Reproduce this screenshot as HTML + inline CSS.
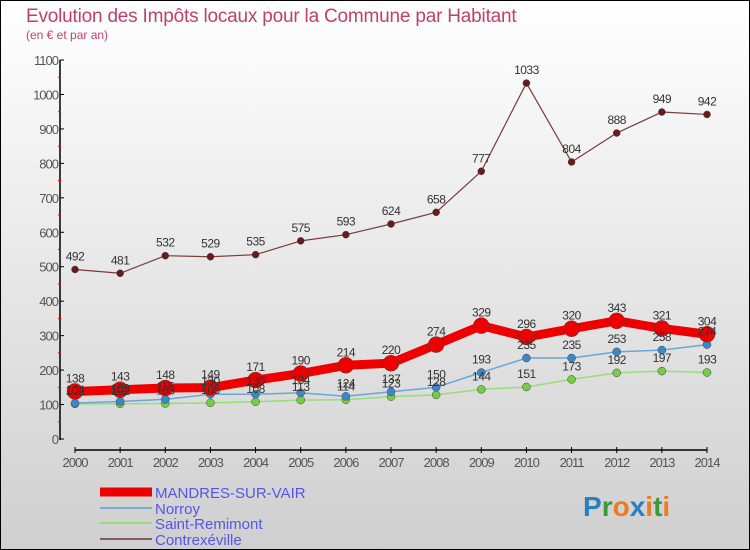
<!DOCTYPE html>
<html><head><meta charset="utf-8"><style>
body{margin:0}
#wrap{width:750px;height:550px;position:relative;overflow:hidden}
svg text{font-family:"Liberation Sans",sans-serif}
</style></head><body>
<div id="wrap">
<svg id="chart" width="750" height="550" xmlns="http://www.w3.org/2000/svg">
<defs><linearGradient id="bg" x1="0" y1="0" x2="0" y2="1"><stop offset="0" stop-color="#ffffff"/><stop offset="1" stop-color="#cfcfcf"/></linearGradient></defs>
<rect x="0.5" y="0.5" width="749" height="549" fill="url(#bg)" stroke="#000"/>
<text x="26" y="22" font-size="19" fill="#c0406a" letter-spacing="-0.2">Evolution des Impôts locaux pour la Commune par Habitant</text>
<text x="26" y="39" font-size="12" fill="#c0406a">(en € et par an)</text>
<g id="axes"></g><g id="series"></g><g id="labels"></g>
<g>
<line x1="100" y1="492" x2="152" y2="492" stroke="#ee0000" stroke-width="9"/>
<text x="155" y="498" font-size="15" fill="#5555ee">MANDRES-SUR-VAIR</text>
<line x1="100" y1="508" x2="152" y2="508" stroke="#7aaad0" stroke-width="2"/>
<text x="155" y="514" font-size="15" fill="#5555ee">Norroy</text>
<line x1="100" y1="523" x2="152" y2="523" stroke="#99dd77" stroke-width="2"/>
<text x="155" y="529" font-size="15" fill="#5555ee">Saint-Remimont</text>
<line x1="100" y1="539" x2="152" y2="539" stroke="#8a5a5a" stroke-width="2"/>
<text x="155" y="545" font-size="15" fill="#5555ee">Contrexéville</text>
</g>
<g font-size="28" font-weight="bold">
<text x="583" y="516"><tspan fill="#2a7fc0">P</tspan><tspan fill="#3a9a3a">r</tspan><tspan fill="#f07a20">o</tspan><tspan fill="#2a7fc0">x</tspan><tspan fill="#f07a20">i</tspan><tspan fill="#3a9a3a">t</tspan><tspan fill="#f07a20">i</tspan></text>
</g>
</svg>
</div>
<script>
const years=[2000,2001,2002,2003,2004,2005,2006,2007,2008,2009,2010,2011,2012,2013,2014];
const mandres=[138,143,148,149,171,190,214,220,274,329,296,320,343,321,304];
const norroy=[104,109,115,130,130,134,124,137,150,193,235,235,253,258,274];
const remimont=[102,102,103,105,108,113,114,123,128,144,151,173,192,197,193];
const contrex=[492,481,532,529,535,575,593,624,658,777,1033,804,888,949,942];
const yTicks=[0,100,200,300,400,500,600,700,800,900,1000,1100];
const NS="http://www.w3.org/2000/svg";
const xs=i=>75+i*(707-75)/(years.length-1);
const ys=v=>439-v*(379/1100);
function mk(tag,attrs,parent){const e=document.createElementNS(NS,tag);for(const k in attrs)e.setAttribute(k,attrs[k]);parent.appendChild(e);return e;}
const ax=document.getElementById('axes'),sg=document.getElementById('series'),lg=document.getElementById('labels');
let l=mk('line',{x1:60,y1:60,x2:60,y2:440,stroke:'#000','stroke-width':1.5},ax);


l=mk('line',{x1:75,y1:450,x2:707,y2:450,stroke:'#000','stroke-width':1.5},ax);


yTicks.forEach(v=>{const y=ys(v);
 mk('line',{x1:60,y1:y,x2:64,y2:y,stroke:'#000'},ax);
 if(v<1100)mk('line',{x1:58,y1:ys(v+50),x2:61,y2:ys(v+50),stroke:'#e00'},ax);
 const t=mk('text',{x:58,y:y+5,'font-size':13,fill:'#555','text-anchor':'end','letter-spacing':'-1'},ax);t.textContent=v;
 
 
});
years.forEach((yr,i)=>{const x=xs(i);
 mk('line',{x1:x,y1:447,x2:x,y2:453,stroke:'#000'},ax);
 const t=mk('text',{x:x,y:467,'font-size':13,fill:'#555','text-anchor':'middle','letter-spacing':'-1'},ax);t.textContent=yr;
 
 
});
function series(vals,color,w,r,name,dot){
 const p=mk('polyline',{points:vals.map((v,i)=>xs(i)+','+ys(v)).join(' '),fill:'none',stroke:color,'stroke-width':w,'stroke-linejoin':'round'},sg);
 
 
 vals.forEach((v,i)=>{const c=mk('circle',{cx:xs(i),cy:ys(v),r:r,fill:dot,stroke:'#444','stroke-width':0.5},sg);
  
  
  const t=mk('text',{x:xs(i),y:ys(v)-9,'font-size':12,fill:'#333','text-anchor':'middle','letter-spacing':'-0.5'},lg);t.textContent=v;
  
  
 });
}
series(contrex,'#7a3a3a',1.2,3.5,'contrexeville','#6a1a1a');
series(remimont,'#99dd77',1.5,4,'saint-remimont','#77cc44');
series(norroy,'#6aa6d6',1.5,4,'norroy','#3a88cc');
series(mandres,'#ee0000',9,8,'mandres','#ee0000');
</script>
</body></html>
